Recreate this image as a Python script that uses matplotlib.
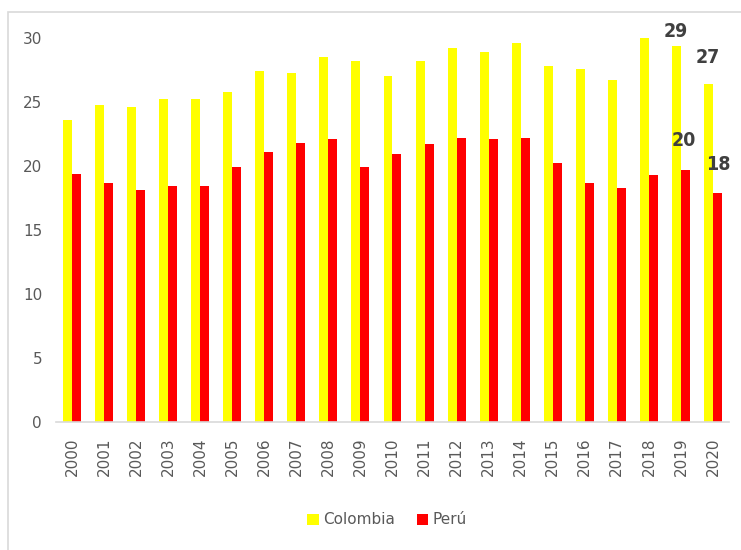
import matplotlib
matplotlib.use("Agg")
import matplotlib.pyplot as plt
from matplotlib.patches import Rectangle

years = [str(y) for y in range(2000, 2021)]
colombia = [23.6, 24.8, 24.6, 25.2, 25.2, 25.8, 27.4, 27.3, 28.5, 28.2, 27.0,
            28.2, 29.2, 28.9, 29.6, 27.8, 27.6, 26.7, 30.0, 29.4, 26.4]
peru = [19.4, 18.7, 18.1, 18.4, 18.4, 19.9, 21.1, 21.8, 22.1, 19.9, 20.9,
        21.7, 22.2, 22.1, 22.2, 20.2, 18.7, 18.3, 19.3, 19.7, 17.9]
yticks = [0, 5, 10, 15, 20, 25, 30]
# labelled points: (series, index, text)
labels = [("Colombia", 19, "29"), ("Colombia", 20, "27"),
          ("Perú", 19, "20"), ("Perú", 20, "18")]

W, H = 741, 550
fig = plt.figure(figsize=(W / 100, H / 100), dpi=100)
ax = fig.add_axes([56 / W, 1 - 422 / H, (729 - 56) / W, (422 - 38) / H])

x = list(range(len(years)))
bw = 0.28
ax.bar([i - bw / 2 for i in x], colombia, width=bw, color="#FFFF00",
       label="Colombia", clip_on=False)
ax.bar([i + bw / 2 for i in x], peru, width=bw, color="#FF0000",
       label="Perú", clip_on=False)

ax.set_xlim(-0.5, len(years) - 0.5)
ax.set_ylim(0, 30)
ax.set_yticks(yticks)
ax.set_yticklabels([str(v) for v in yticks])
ax.set_xticks(x)
ax.set_xticklabels(years, rotation=90)
ax.tick_params(axis="both", length=0, labelsize=11, colors="#595959")
ax.tick_params(axis="y", pad=10)
ax.tick_params(axis="x", pad=11)
for s in ["top", "right", "left"]:
    ax.spines[s].set_visible(False)
ax.spines["bottom"].set_color("#d9d9d9")
ax.spines["bottom"].set_linewidth(1.2)

# data labels
series = {"Colombia": colombia, "Perú": peru}
lab_off = {("Colombia", 19): (-0.15, 1.1), ("Colombia", 20): (-0.15, 2.1),
           ("Perú", 19): (0.1, 2.3), ("Perú", 20): (0.16, 2.2)}
for name, idx, txt in labels:
    dx, dy = lab_off[(name, idx)]
    ax.text(idx + dx, series[name][idx] + dy, txt, ha="center", va="center",
            fontsize=14, fontweight="bold", color="#404040",
            fontstretch="condensed",
            family=["DejaVu Sans Condensed", "DejaVu Sans"])

leg = fig.legend(loc="center", bbox_to_anchor=(387 / W, 1 - 520 / H), ncol=2,
                 frameon=False, fontsize=11, handlelength=0.75,
                 handleheight=0.75, handletextpad=0.3, columnspacing=1.4)
for t in leg.get_texts():
    t.set_color("#595959")

# outer chart border
fig.patches.append(Rectangle((8 / W, -0.05), 1.0, 1.05 - 12 / H,
                             transform=fig.transFigure, fill=False,
                             edgecolor="#d9d9d9", linewidth=1.2))

fig.savefig("out.png", dpi=100)
